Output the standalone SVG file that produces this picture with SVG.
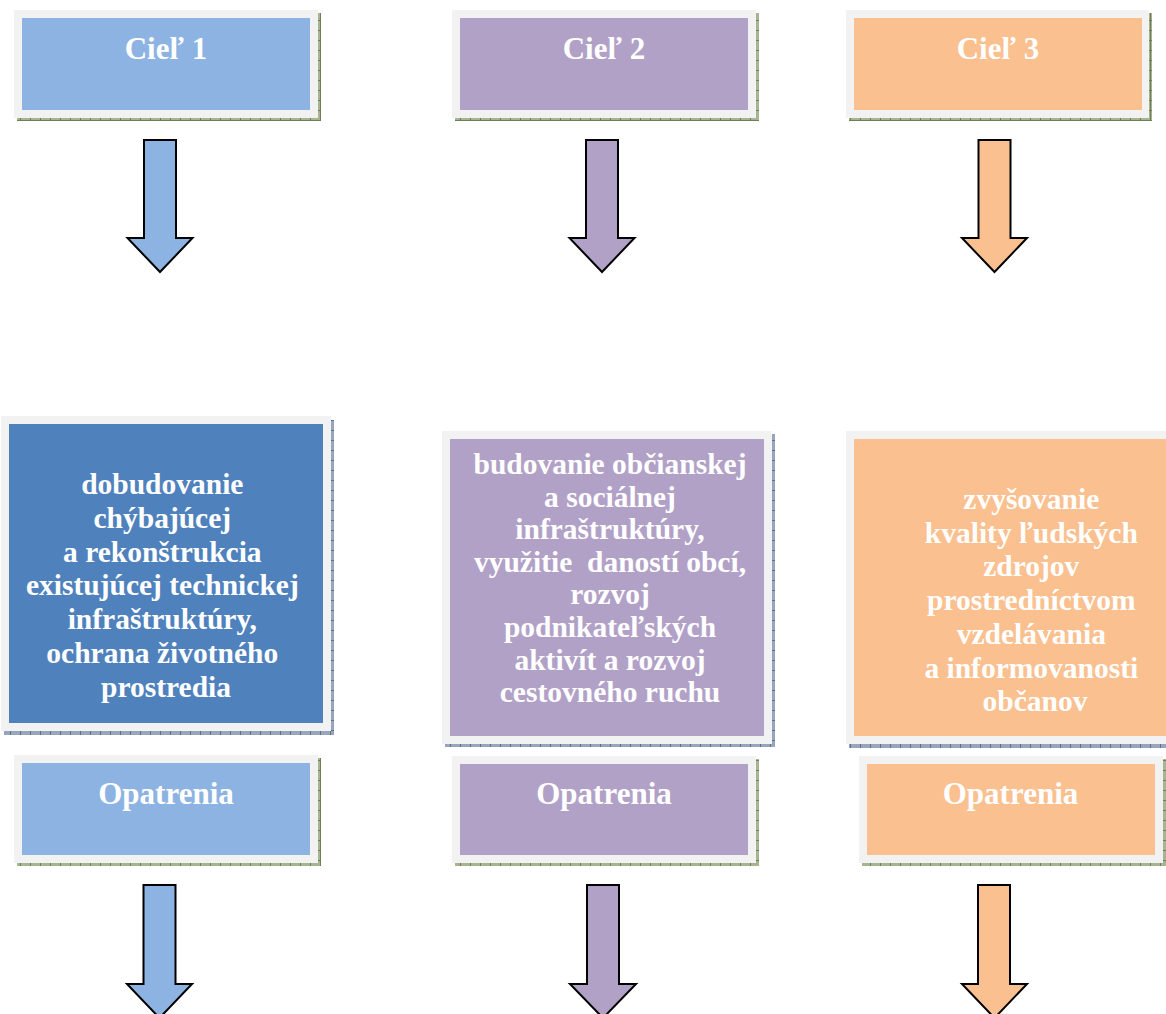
<svg xmlns="http://www.w3.org/2000/svg" width="1166" height="1014" viewBox="0 0 1166 1014">
<defs>
<pattern id="pg" patternUnits="userSpaceOnUse" width="10" height="10">
<rect width="10" height="10" fill="#A6B48F"/>
<rect x="0" y="0" width="1" height="10" fill="#6E7E58"/>
<rect x="0" y="0" width="10" height="1" fill="#6E7E58"/>
</pattern>
<pattern id="pb" patternUnits="userSpaceOnUse" width="10" height="10">
<rect width="10" height="10" fill="#98A6BD"/>
<rect x="0" y="0" width="1" height="10" fill="#5F6F8A"/>
<rect x="0" y="0" width="10" height="1" fill="#5F6F8A"/>
</pattern>
</defs>
<style>
.frame{fill:#F2F2F2}
.sg{fill:url(#pg)}
.sb{fill:url(#pb)}
.blue{fill:#8DB3E2}
.dblue{fill:#4F81BD}
.purple{fill:#B2A1C7}
.orange{fill:#FAC090}
.t{font-family:"Liberation Serif","Times New Roman",serif;font-weight:bold;fill:#FFFFFF;text-anchor:middle}
.title{font-size:31px}
.body{font-size:29.5px}
.arrow{stroke:#000000;stroke-width:2;stroke-linejoin:miter}
</style>
<rect width="1166" height="1014" fill="#FFFFFF"/>

<g id="ciel1">
<rect class="sg" x="17" y="13" width="304" height="108"/>
<rect class="frame" x="14" y="10" width="304" height="108"/>
<rect class="blue" x="22" y="18" width="288" height="92"/>
<text class="t title" x="166" y="59">Cieľ 1</text>
</g>
<g id="ciel2">
<rect class="sg" x="455" y="13" width="304" height="108"/>
<rect class="frame" x="452" y="10" width="304" height="108"/>
<rect class="purple" x="460" y="18" width="288" height="92"/>
<text class="t title" x="604" y="59">Cieľ 2</text>
</g>
<g id="ciel3">
<rect class="sg" x="849" y="13" width="303" height="108"/>
<rect class="frame" x="846" y="10" width="303" height="108"/>
<rect class="orange" x="854" y="18" width="288" height="92"/>
<text class="t title" x="998" y="59">Cieľ 3</text>
</g>

<g id="ciel1-text">
<rect class="sb" x="4" y="420" width="330" height="315"/>
<rect class="frame" x="1" y="416" width="330" height="315"/>
<rect class="dblue" x="9" y="424" width="314" height="299"/>
<text class="t body" x="166" y="494">
<tspan x="166" y="494">dobudovanie</tspan>
<tspan x="166" y="527.8">chýbajúcej</tspan>
<tspan x="166" y="561.6">a rekonštrukcia</tspan>
<tspan x="166" y="595.4">existujúcej technickej</tspan>
<tspan x="166" y="629.2">infraštruktúry,</tspan>
<tspan x="166" y="663">ochrana životného</tspan>
<tspan x="166" y="697">prostredia</tspan>
</text>
</g>
<g id="ciel2-text">
<rect class="sb" x="445" y="434" width="330" height="313"/>
<rect class="frame" x="442" y="431" width="330" height="313"/>
<rect class="purple" x="450" y="439" width="314" height="297"/>
<text class="t body" x="610" y="474" xml:space="preserve"><tspan x="610" y="474">budovanie občianskej</tspan><tspan x="610" y="506.6">a sociálnej</tspan><tspan x="610" y="539.2">infraštruktúry,</tspan><tspan x="610" y="571.8">využitie  daností obcí,</tspan><tspan x="610" y="604.4">rozvoj</tspan><tspan x="610" y="637">podnikateľských</tspan><tspan x="610" y="669.6">aktivít a rozvoj</tspan><tspan x="610" y="702">cestovného ruchu</tspan></text>
</g>
<g id="ciel3-text">
<rect class="sb" x="849" y="434" width="330" height="314"/>
<rect class="frame" x="846" y="431" width="330" height="313"/>
<rect class="orange" x="854" y="439" width="322" height="297"/>
<text class="t body" x="1035" y="509">
<tspan x="1035" y="509">zvyšovanie</tspan>
<tspan x="1035" y="542.7">kvality ľudských</tspan>
<tspan x="1035" y="576.4">zdrojov</tspan>
<tspan x="1035" y="610.1">prostredníctvom</tspan>
<tspan x="1035" y="643.8">vzdelávania</tspan>
<tspan x="1035" y="677.5">a informovanosti</tspan>
<tspan x="1035" y="711">občanov</tspan>
</text>
</g>

<g id="opatrenia1">
<rect class="sg" x="17" y="758" width="304" height="108"/>
<rect class="frame" x="14" y="755" width="304" height="108"/>
<rect class="blue" x="22" y="763" width="288" height="92"/>
<text class="t title" x="166" y="804">Opatrenia</text>
</g>
<g id="opatrenia2">
<rect class="sg" x="455" y="759" width="304" height="107"/>
<rect class="frame" x="452" y="756" width="304" height="107"/>
<rect class="purple" x="460" y="764" width="288" height="91"/>
<text class="t title" x="604" y="803.5">Opatrenia</text>
</g>
<g id="opatrenia3">
<rect class="sg" x="862" y="759" width="304" height="107"/>
<rect class="frame" x="859" y="756" width="304" height="107"/>
<rect class="orange" x="867" y="764" width="288" height="91"/>
<text class="t title" x="1010.5" y="803.5">Opatrenia</text>
</g>

<g id="connectors">
<polygon class="arrow blue" points="144,140 176,140 176,238 192.5,238 160,272 127.5,238 144,238"/>
<polygon class="arrow purple" points="586,140 618,140 618,238 634.5,238 602,272 569.5,238 586,238"/>
<polygon class="arrow orange" points="978.5,140 1010.5,140 1010.5,238 1027,238 994.5,272 962,238 978.5,238"/>
<polygon class="arrow blue" points="143.5,885 175.5,885 175.5,984 192,984 159.5,1018 127,984 143.5,984"/>
<polygon class="arrow purple" points="587,885 619,885 619,984 636,984 603,1018 570,984 587,984"/>
<polygon class="arrow orange" points="978,885 1010,885 1010,984 1027,984 994.5,1018 962,984 978,984"/>
</g>
</svg>
